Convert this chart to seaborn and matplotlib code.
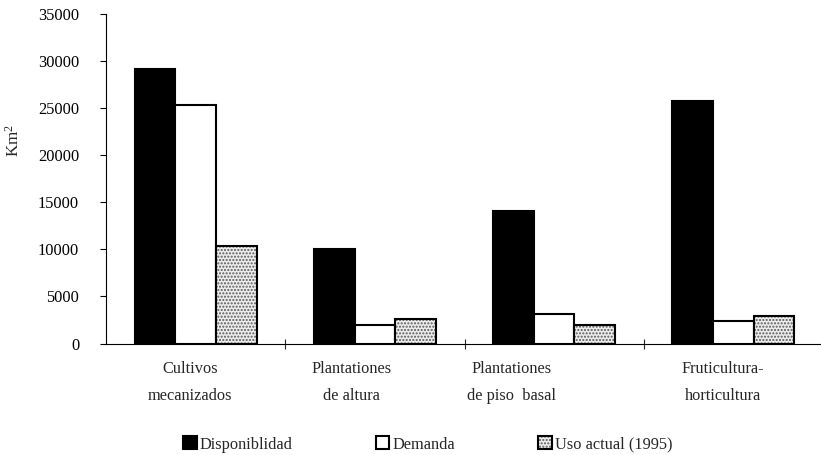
import numpy as np
import pandas as pd
import seaborn as sns
import matplotlib.pyplot as plt
from matplotlib.ticker import MultipleLocator

categorias = ["Cultivos\nmecanizados", "Plantationes\nde altura",
              "Plantationes\nde piso  basal", "Fruticultura-\nhorticultura"]
series = ["Disponiblidad", "Demanda", "Uso actual (1995)"]
disponibilidad = [29200, 10000, 14100, 25800]
demanda = [25300, 2000, 3100, 2400]
uso_actual = [10400, 2600, 2000, 2950]

sns.set_theme(style="ticks")
plt.rcParams['font.family'] = ['Liberation Serif', 'DejaVu Serif']
plt.rcParams['mathtext.fontset'] = 'custom'
plt.rcParams['mathtext.rm'] = 'Liberation Serif'
plt.rcParams['mathtext.default'] = 'rm'
plt.rcParams['hatch.linewidth'] = 1.0

df = pd.DataFrame({
    'cat': categorias * 3,
    'serie': np.repeat(series, 4),
    'valor': disponibilidad + demanda + uso_actual,
})

fig = plt.figure(figsize=(8.21, 4.55), dpi=100)
ax = fig.add_axes([106/821, 1 - 343.5/455, 717/821, 329.5/455])

pal = {"Disponiblidad": "black", "Demanda": "white", "Uso actual (1995)": "#ececec"}
sns.barplot(data=df, x='cat', y='valor', hue='serie', palette=pal, width=0.68,
            edgecolor='black', linewidth=1.5, saturation=1, legend=False, ax=ax)

# punteado para el uso actual
for p in ax.containers[2].patches:
    p.set_hatch('.....')
    p._hatch_color = (0.35, 0.35, 0.35, 1)

fs = 11.8
ax.set_xlim(-0.5, 3.5)
ax.set_ylim(0, 35000)
ax.yaxis.set_major_locator(MultipleLocator(5000))
ax.tick_params(axis='y', direction='out', length=4.3, width=0.8, pad=15,
               labelsize=fs, colors='black')

label_shift = [-0.03, -0.13, -0.24, -0.06]
ax.set_xticks(np.arange(4) + np.array(label_shift), categorias,
              linespacing=1.95, multialignment='center')
ax.set_xticks([0.5, 1.5, 2.5], minor=True)
ax.tick_params(axis='x', which='major', length=0, pad=12.5, labelsize=fs)
ax.tick_params(axis='x', which='minor', direction='inout', length=7.5, width=0.8)

ax.set_xlabel('')
ax.set_ylabel('Km$^2$', fontsize=fs + 0.5)
ax.yaxis.set_label_coords(-0.116, 0.615)

sns.despine(ax=ax)
for s in ['left', 'bottom']:
    ax.spines[s].set_color('black')
    ax.spines[s].set_linewidth(0.8)
ax.spines['bottom'].set_zorder(5)

handles = [c.patches[0] for c in ax.containers]
fig.legend(handles, series, loc='center', bbox_to_anchor=(0.521, 1 - 444.5/455),
           ncol=3, frameon=False, handlelength=0.85, handleheight=0.85,
           handletextpad=0.2, columnspacing=5.05, fontsize=fs, borderpad=0)

fig.savefig('out.png', dpi=100)
